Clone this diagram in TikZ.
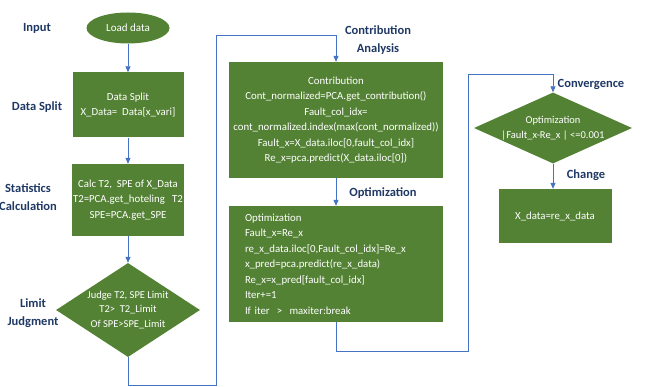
\documentclass[tikz,border=0pt]{standalone}
\usepackage{fontspec}
\setmainfont{Carlito}
\usetikzlibrary{shapes.geometric,arrows.meta}
\definecolor{boxgreen}{HTML}{548235}
\definecolor{linkblue}{HTML}{4472C4}
\definecolor{labelnavy}{HTML}{1F3864}
\begin{document}
\begin{tikzpicture}[x=1pt,y=-1pt]
\tikzstyle{arrow}=[-{Triangle[length=6pt,width=5pt]}, linkblue, line width=0.8pt]
\tikzstyle{block}=[rectangle, fill=boxgreen, text=white, align=center, inner sep=0pt, font=\fontsize{10.8}{15.5}\selectfont]
\tikzstyle{decide}=[diamond, fill=boxgreen, inner sep=0pt]
\tikzstyle{inside}=[text=white, align=center, font=\fontsize{10.5}{14.5}\selectfont]
\tikzstyle{tag}=[text=labelnavy, align=center, font=\bfseries\fontsize{12.5}{18}\selectfont]
\useasboundingbox (0,0) rectangle (646,387);

% left column
\draw node[ellipse, fill=boxgreen, text=white, minimum width=83, minimum height=31, inner sep=0pt, font=\fontsize{11}{14}\selectfont] (A) at (128,28) {Load data};
\draw node[block, minimum width=111, minimum height=65] (B) at (128,105) {Data Split\\X\_Data=\ \ Data[x\_vari]};
\draw node[block, minimum width=112, minimum height=72] (S) at (128,200) {Calc T2,\ \ SPE of X\_Data\\T2=PCA.get\_hoteling\ \ \ T2\\SPE=PCA.get\_SPE};
\draw node[decide, minimum width=144, minimum height=94] (J) at (128,310) {};
\draw node[inside] (J1) at (J.center) {Judge T2, SPE Limit\\T2>\ \ T2\_Limit\\Of SPE>SPE\_Limit};
\draw[arrow] (A) -- (B);
\draw[arrow] (B) -- (S);
\draw[arrow] (S) -- (J);

\draw node[tag] (L1) at (37,28) {Input};
\draw node[tag] (L2) at (37,107) {Data Split};
\draw node[tag] (L3) at (28,197) {Statistics\\Calculation};
\draw node[tag] (L4) at (33,313) {Limit\\Judgment};

% middle column
\draw node[block, minimum width=214, minimum height=116] (C) at (336,120) {Contribution\\Cont\_normalized=PCA.get\_contribution()\\Fault\_col\_idx=\\cont\_normalized.index(max(cont\_normalized))\\Fault\_x=X\_data.iloc[0,fault\_col\_idx]\\Re\_x=pca.predict(X\_data.iloc[0])};
\draw node[block, align=left, text width=182, inner xsep=16, minimum height=116] (O) at (336,264) {Optimization\\Fault\_x=Re\_x\\re\_x\_data.iloc[0,Fault\_col\_idx]=Re\_x\\x\_pred=pca.predict(re\_x\_data)\\Re\_x=x\_pred[fault\_col\_idx]\\Iter+=1\\If iter \ > \ maxiter:break};
\draw[arrow] (J.south) -- ++(0,28) -| (216,35) -| (C.north);
\draw[arrow] (C) -- (O);
\draw node[tag] (L5) at (378,40) {Contribution\\Analysis};
\draw node[tag] (L6) at (383,193) {Optimization};

% right column
\draw node[decide, minimum width=158, minimum height=71] (V) at (553,128) {};
\draw node[inside] (V1) at (V.center) {Optimization\\|Fault\_x-Re\_x | <=0.001};
\draw node[block, minimum width=113, minimum height=54] (X) at (555,216) {X\_data=re\_x\_data};
\draw[arrow] (O.south) -- ++(0,29) -| (468,74) -| (V.north);
\draw[arrow] (V.south) -- (X.north -| V.south);
\draw node[tag] (L7) at (591,84) {Convergence};
\draw node[tag] (L8) at (586,175) {Change};

\end{tikzpicture}
\end{document}
